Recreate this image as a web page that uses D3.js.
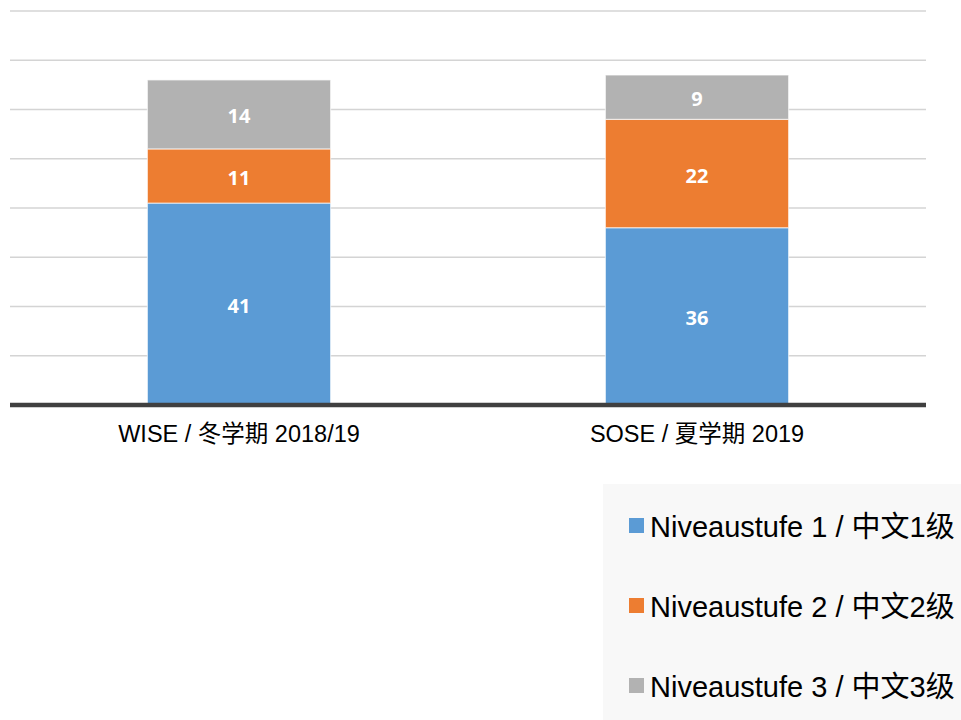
<!DOCTYPE html>
<html>
<head>
<meta charset="utf-8">
<script src="https://cdn.jsdelivr.net/npm/d3@7"></script>
<style>
  body { margin: 0; background: #fff; }
  svg { display: block; }
</style>
</head>
<body>
<svg width="961" height="720"></svg>
<script>
// data
var semesters = ["WISE / 冬学期 2018/19", "SOSE / 夏学期 2019"];
var levels = ["Niveaustufe 1 / 中文1级", "Niveaustufe 2 / 中文2级", "Niveaustufe 3 / 中文3级"];
var level1 = [41, 36];
var level2 = [11, 22];
var level3 = [14, 9];
var yTicks = [0, 10, 20, 30, 40, 50, 60, 70, 80];

var colors = ["#5b9bd5", "#ed7d31", "#b2b2b2"];

var svg = d3.select("svg");
var margin = {left: 10, right: 35, top: 11, bottom: 315};
var width = 961 - margin.left - margin.right,
    height = 720 - margin.top - margin.bottom;

var g = svg.append("g").attr("transform", "translate(" + margin.left + "," + margin.top + ")");

var x = d3.scaleBand().domain(semesters).range([0, width]).paddingInner(0.6).paddingOuter(0.3);
var y = d3.scaleLinear().domain([0, 80]).range([height, 0]);

// build rows for stacking
var rows = semesters.map(function(s, i) {
    return {sem: s, l1: level1[i], l2: level2[i], l3: level3[i]};
});
var stack = d3.stack().keys(["l1", "l2", "l3"]);
var series = stack(rows);

// gridlines
g.selectAll(".grid")
    .data(yTicks.slice(1))
  .enter().append("line")
    .attr("class", "grid")
    .attr("x1", 0).attr("x2", width)
    .attr("y1", function(d) { return y(d); })
    .attr("y2", function(d) { return y(d); })
    .style("stroke", "#d4d4d4")
    .style("stroke-width", 1.5);

// bars
var layer = g.selectAll(".layer")
    .data(series)
  .enter().append("g")
    .attr("class", "layer")
    .style("fill", function(d, i) { return colors[i]; });

layer.selectAll("rect")
    .data(function(d) { return d; })
  .enter().append("rect")
    .attr("x", function(d) { return x(d.data.sem); })
    .attr("width", x.bandwidth())
    .attr("y", function(d) { return y(d[1]); })
    .attr("height", function(d) { return y(d[0]) - y(d[1]); })
    .style("stroke", "#fff")
    .style("stroke-opacity", 0.6)
    .style("stroke-width", 1.2);

layer.selectAll("text")
    .data(function(d) { return d; })
  .enter().append("text")
    .attr("x", function(d) { return x(d.data.sem) + x.bandwidth() / 2; })
    .attr("y", function(d) { return (y(d[0]) + y(d[1])) / 2 + 2; })
    .attr("dy", ".35em")
    .style("text-anchor", "middle")
    .style("fill", "#fff")
    .style("font-family", "'Open Sans', sans-serif")
    .style("font-weight", "bold")
    .style("font-size", "20px")
    .text(function(d) { return d[1] - d[0]; });

// baseline
g.append("line")
    .attr("x1", 0).attr("x2", width)
    .attr("y1", y(0)).attr("y2", y(0))
    .style("stroke", "#404040")
    .style("stroke-width", 4.5);

// x axis labels
var xAxis = d3.axisBottom(x).tickSize(0).tickPadding(20);
var ax = g.append("g")
    .attr("transform", "translate(0," + y(0) + ")")
    .call(xAxis);
ax.select(".domain").remove();
ax.selectAll("text")
    .style("font-family", "'Liberation Sans', 'Noto Sans CJK SC', sans-serif")
    .style("font-size", "23.5px")
    .style("fill", "#000");

// legend
var lg = svg.append("g").attr("transform", "translate(603,484)");
lg.append("rect")
    .attr("width", 358).attr("height", 236)
    .style("fill", "#f8f8f8");

var item = lg.selectAll(".legend")
    .data(levels)
  .enter().append("g")
    .attr("class", "legend")
    .attr("transform", function(d, i) { return "translate(26," + (34 + i * 80) + ")"; });

item.append("rect")
    .attr("width", 15).attr("height", 15)
    .style("fill", function(d, i) { return colors[i]; });

item.append("text")
    .attr("x", 21)
    .attr("y", 19)
    .style("font-family", "'Liberation Sans', 'Noto Sans CJK SC', sans-serif")
    .style("font-size", "29px")
    .style("fill", "#000")
    .text(function(d) { return d; });
</script>
</body>
</html>
